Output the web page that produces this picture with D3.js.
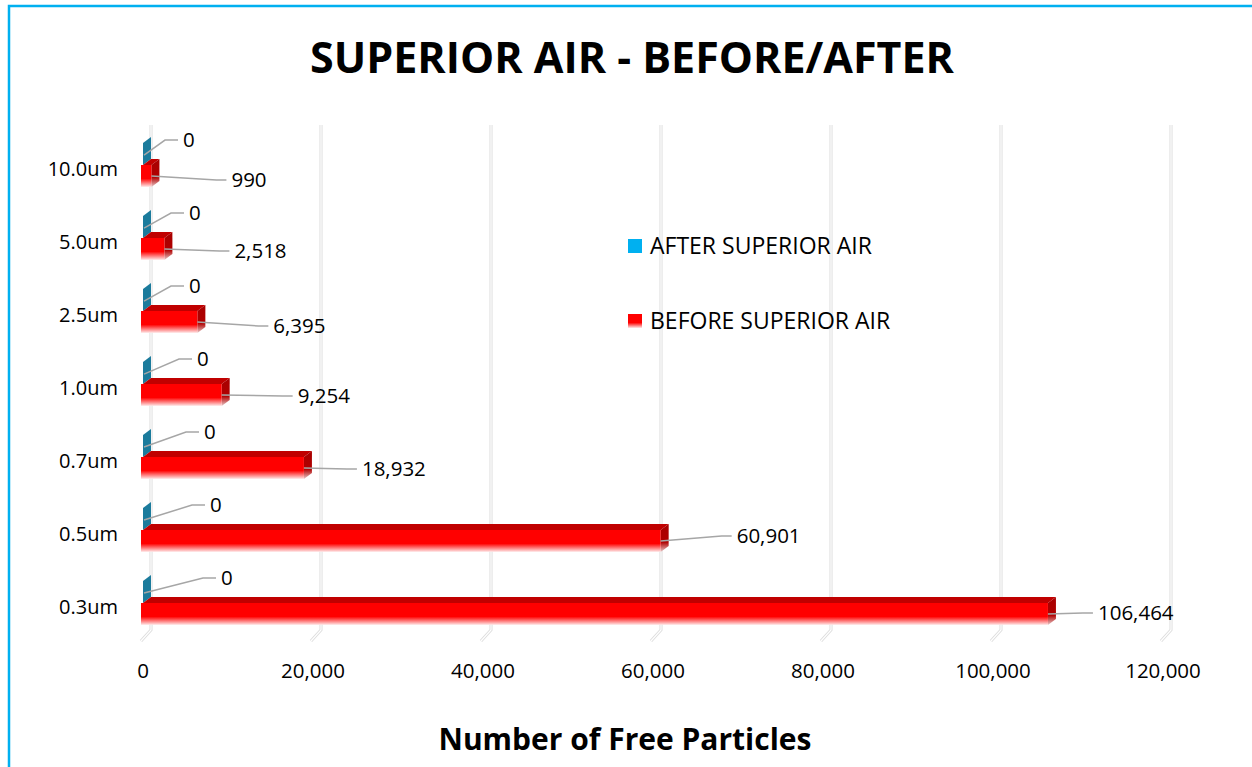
<!DOCTYPE html>
<html>
<head>
<meta charset="utf-8">
<script src="https://cdn.jsdelivr.net/npm/d3@7"></script>
<style>
  body { margin: 0; background: #fff; }
  svg { display: block; font-family: "Open Sans", sans-serif; }
</style>
</head>
<body>
<svg id="chart" width="1252" height="767"></svg>
<script>
// Data
const sizes = ["10.0um", "5.0um", "2.5um", "1.0um", "0.7um", "0.5um", "0.3um"];
const before = [990, 2518, 6395, 9254, 18932, 60901, 106464];
const after = [0, 0, 0, 0, 0, 0, 0];
const xTicks = [0, 20000, 40000, 60000, 80000, 100000, 120000];
const seriesNames = ["AFTER SUPERIOR AIR", "BEFORE SUPERIOR AIR"];

// label placement (leader lines), px
const beforeLabelGap = [80, 70, 76, 76, 58, 76, 50];
const beforeLabelDy = [4, 2, 4, 1, 1, -5, -1];
const afterLabelX = [183, 189, 189, 197, 204, 210, 221];

const width = 1252, height = 767;
const dx = 8, dy = -6;
const svg = d3.select("#chart");
const fmt = d3.format(",");

const x = d3.scaleLinear().domain([0, 120000]).range([143, 1163]);
const y = d3.scaleBand().domain(sizes).range([125, 636]);
const bw = y.bandwidth();
const barH = bw * 0.3;

// gradients
const defs = svg.append("defs");
const g1 = defs.append("linearGradient").attr("id", "redFront").attr("x1", 0).attr("y1", 0).attr("x2", 0).attr("y2", 1);
g1.append("stop").attr("offset", "0%").attr("stop-color", "#ff0000");
g1.append("stop").attr("offset", "62%").attr("stop-color", "#ff0000");
g1.append("stop").attr("offset", "100%").attr("stop-color", "#ffe8e8");
const g2 = defs.append("linearGradient").attr("id", "redSide").attr("x1", 0).attr("y1", 0).attr("x2", 0).attr("y2", 1);
g2.append("stop").attr("offset", "0%").attr("stop-color", "#a80000");
g2.append("stop").attr("offset", "65%").attr("stop-color", "#b00000");
g2.append("stop").attr("offset", "100%").attr("stop-color", "#e8c8c8");

// border
svg.append("rect").attr("x", 9).attr("y", 6).attr("width", 1300).attr("height", 800)
   .attr("fill", "none").attr("stroke", "#00b0f0").attr("stroke-width", 2.5);

// title
svg.append("text").attr("x", 632).attr("y", 73).attr("text-anchor", "middle")
   .attr("font-size", 43).attr("font-weight", "bold").attr("fill", "#000")
   .text("SUPERIOR AIR - BEFORE/AFTER");

// gridlines (back wall + floor)
const grid = svg.append("g");
xTicks.forEach(t => {
    const path = `M${x(t) + dx},125 L${x(t) + dx},${636 + dy} L${x(t) - 2},641`;
    grid.append("path").attr("d", path).attr("fill", "none").attr("stroke", "#dcdcdc").attr("stroke-width", 3);
    grid.append("path").attr("d", path).attr("fill", "none").attr("stroke", "#ffffff").attr("stroke-width", 1.2);
});

// x tick labels
svg.append("g").selectAll("text").data(xTicks).join("text")
   .attr("x", d => x(d)).attr("y", 678).attr("text-anchor", "middle")
   .attr("font-size", 20.5).attr("fill", "#000").text(d => fmt(d));

// category labels
svg.append("g").selectAll("text").data(sizes).join("text")
   .attr("x", 118).attr("y", d => y(d) + bw * 0.6).attr("dy", "0.35em").attr("text-anchor", "end")
   .attr("font-size", 20).attr("fill", "#000").text(d => d);

// bars
const bars = svg.append("g");
sizes.forEach((s, i) => {
    // after (blue, zero width: only side face visible)
    const by = y(s) + bw * 0.247;
    const bx = x(after[i]);
    bars.append("path")
        .attr("d", `M${x(0)},${by} L${x(0) + dx},${by + dy} L${x(0) + dx},${by + dy + barH} L${x(0)},${by + barH} Z`)
        .attr("fill", "#1b7b9c");
    if (bx > x(0)) {
        bars.append("rect").attr("x", x(0)).attr("y", by).attr("width", bx - x(0)).attr("height", barH).attr("fill", "#00b0f0");
    }

    // before (red 3D bar)
    const ry = y(s) + bw * 0.548;
    const rx = x(before[i]);
    bars.append("path")
        .attr("d", `M${x(0)},${ry} L${x(0) + dx},${ry + dy} L${rx + dx},${ry + dy} L${rx},${ry} Z`)
        .attr("fill", "#c00000");
    bars.append("path")
        .attr("d", `M${rx},${ry} L${rx + dx},${ry + dy} L${rx + dx},${ry + dy + barH} L${rx},${ry + barH} Z`)
        .attr("fill", "url(#redSide)");
    bars.append("rect").attr("x", x(0) - 2).attr("y", ry).attr("width", rx - x(0) + 2).attr("height", barH)
        .attr("fill", "url(#redFront)");
});

// data labels with leader lines
const labels = svg.append("g");
sizes.forEach((s, i) => {
    const by = y(s) + bw * 0.247;
    const ly = by - 3;
    const lx = afterLabelX[i];
    labels.append("path")
        .attr("d", `M${x(after[i]) + 1},${by + barH * 0.55} L${lx - 18},${ly} L${lx - 5},${ly}`)
        .attr("fill", "none").attr("stroke", "#a6a6a6").attr("stroke-width", 1.5);
    labels.append("text").attr("x", lx).attr("y", ly).attr("dy", "0.35em")
        .attr("font-size", 20.5).attr("fill", "#000").text(fmt(after[i]));

    const ry = y(s) + bw * 0.548 + barH / 2;
    const rx = x(before[i]);
    const tx = rx + beforeLabelGap[i];
    const ty = ry + beforeLabelDy[i];
    labels.append("path")
        .attr("d", `M${rx},${ry} L${tx - 15},${ty} L${tx - 5},${ty}`)
        .attr("fill", "none").attr("stroke", "#a6a6a6").attr("stroke-width", 1.5);
    labels.append("text").attr("x", tx).attr("y", ty).attr("dy", "0.35em")
        .attr("font-size", 20.5).attr("fill", "#000").text(fmt(before[i]));
});

// legend
const legend = svg.append("g");
const legendFill = ["#00b0f0", "url(#redFront)"];
seriesNames.forEach((n, i) => {
    const ly = 246 + i * 75;
    legend.append("rect").attr("x", 628).attr("y", ly - 7).attr("width", 14).attr("height", 14).attr("fill", legendFill[i]);
    legend.append("text").attr("x", 650).attr("y", ly).attr("dy", "0.35em")
        .attr("font-size", 23).attr("fill", "#000").text(n);
});

// x axis title
svg.append("text").attr("x", 625).attr("y", 750).attr("text-anchor", "middle")
   .attr("font-size", 30).attr("font-weight", "bold").attr("fill", "#000")
   .text("Number of Free Particles");
</script>
</body>
</html>
